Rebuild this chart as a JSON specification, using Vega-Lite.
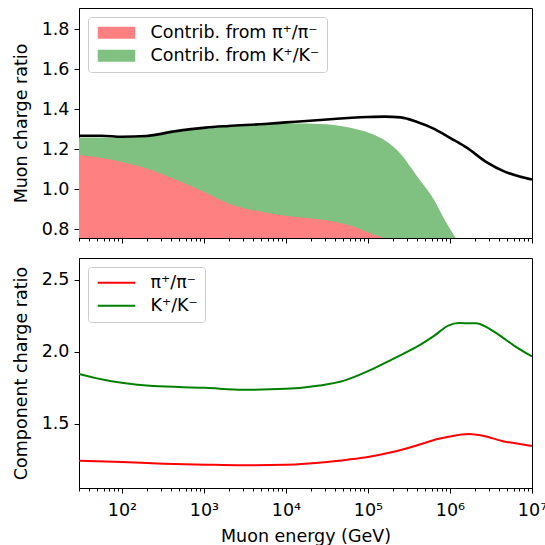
{
  "$schema": "https://vega.github.io/schema/vega-lite/v6.json",
  "padding": {"left": 11, "top": 7, "right": 5, "bottom": 5},
  "spacing": 20,
  "bounds": "flush",
  "config": {
    "font": "DejaVu Sans",
    "view": {"stroke": "black", "strokeWidth": 1},
    "axis": {"labelFont": "DejaVu Sans", "titleFont": "DejaVu Sans", "labelFontSize": 17.5, "titleFontSize": 17.5, "titleFontWeight": "normal", "labelColor": "black", "titleColor": "black", "domainColor": "black", "tickColor": "black", "grid": false, "tickWidth": 1, "domainWidth": 1, "labelPadding": 5, "tickSize": 5, "titlePadding": 11},
    "legend": {"labelFont": "DejaVu Sans", "labelFontSize": 17.5, "labelColor": "black", "labelLimit": 400}
  },
  "datasets": {
    "top": [
      {"E": 30, "total": 1.266, "k": 1.258, "pi": 1.17},
      {"E": 56.2, "total": 1.266, "k": 1.257, "pi": 1.155},
      {"E": 100, "total": 1.261, "k": 1.255, "pi": 1.135},
      {"E": 199.5, "total": 1.265, "k": 1.261, "pi": 1.103},
      {"E": 436.5, "total": 1.288, "k": 1.283, "pi": 1.05},
      {"E": 1047, "total": 1.307, "k": 1.303, "pi": 0.983},
      {"E": 1995, "total": 1.315, "k": 1.312, "pi": 0.928},
      {"E": 5495, "total": 1.325, "k": 1.321, "pi": 0.883},
      {"E": 10000, "total": 1.333, "k": 1.328, "pi": 0.866},
      {"E": 17783, "total": 1.34, "k": 1.327, "pi": 0.855},
      {"E": 38019, "total": 1.35, "k": 1.32, "pi": 0.838},
      {"E": 63096, "total": 1.356, "k": 1.305, "pi": 0.815},
      {"E": 100000, "total": 1.36, "k": 1.283, "pi": 0.783},
      {"E": 158489, "total": 1.362, "k": 1.245, "pi": 0.755},
      {"E": 251189, "total": 1.358, "k": 1.175, "pi": null},
      {"E": 398107, "total": 1.335, "k": 1.063, "pi": null},
      {"E": 630957, "total": 1.302, "k": 0.95, "pi": null},
      {"E": 891251, "total": 1.268, "k": 0.835, "pi": null},
      {"E": 1174898, "total": 1.24, "k": 0.755, "pi": null},
      {"E": 1584893, "total": 1.208, "k": null, "pi": null},
      {"E": 2818383, "total": 1.133, "k": null, "pi": null},
      {"E": 4570882, "total": 1.088, "k": null, "pi": null},
      {"E": 7079458, "total": 1.062, "k": null, "pi": null},
      {"E": 10000000, "total": 1.047, "k": null, "pi": null}
    ],
    "piRatio": [
      {"E": 30, "r": 1.243},
      {"E": 100, "r": 1.234},
      {"E": 324, "r": 1.222},
      {"E": 1047, "r": 1.215},
      {"E": 3020, "r": 1.211},
      {"E": 10000, "r": 1.215},
      {"E": 31623, "r": 1.234},
      {"E": 56234, "r": 1.25},
      {"E": 100000, "r": 1.269},
      {"E": 199526, "r": 1.303},
      {"E": 398107, "r": 1.35},
      {"E": 707946, "r": 1.394},
      {"E": 1000000, "r": 1.412},
      {"E": 1698244, "r": 1.428},
      {"E": 2511886, "r": 1.417},
      {"E": 4570882, "r": 1.377},
      {"E": 6025596, "r": 1.366},
      {"E": 10000000, "r": 1.345}
    ],
    "kRatio": [
      {"E": 30, "r": 1.847},
      {"E": 56.2, "r": 1.81},
      {"E": 100, "r": 1.785},
      {"E": 239.9, "r": 1.762},
      {"E": 1047, "r": 1.75},
      {"E": 3020, "r": 1.736},
      {"E": 10000, "r": 1.743},
      {"E": 25704, "r": 1.766},
      {"E": 51286, "r": 1.8},
      {"E": 100000, "r": 1.866},
      {"E": 199526, "r": 1.95},
      {"E": 436516, "r": 2.05},
      {"E": 645654, "r": 2.113},
      {"E": 954993, "r": 2.183},
      {"E": 1288250, "r": 2.2},
      {"E": 2089296, "r": 2.199},
      {"E": 2818383, "r": 2.171},
      {"E": 4073803, "r": 2.113},
      {"E": 6025596, "r": 2.044},
      {"E": 10000000, "r": 1.968}
    ]
  },
  "vconcat": [
    {
      "width": 453,
      "height": 230,
      "data": {"name": "top"},
      "encoding": {
        "x": {
          "field": "E", "type": "quantitative",
          "scale": {"type": "log", "domain": [30, 10000000], "nice": false},
          "axis": {
            "title": null, "labels": false,
            "values": [30,40,50,60,70,80,90,100,200,300,400,500,600,700,800,900,1000,2000,3000,4000,5000,6000,7000,8000,9000,10000,20000,30000,40000,50000,60000,70000,80000,90000,100000,200000,300000,400000,500000,600000,700000,800000,900000,1000000,2000000,3000000,4000000,5000000,6000000,7000000,8000000,9000000,10000000],
            "tickSize": {"condition": {"test": "abs(log(datum.value)/LN10 - round(log(datum.value)/LN10)) < 0.001", "value": 5}, "value": 3}
          }
        }
      },
      "layer": [
        {
          "mark": {"type": "area", "interpolate": "monotone", "clip": true},
          "encoding": {
            "y": {"field": "k", "type": "quantitative",
              "scale": {"domain": [0.755, 1.905], "nice": false, "zero": false},
              "axis": {"title": "Muon charge ratio", "values": [0.8, 1.0, 1.2, 1.4, 1.6, 1.8], "format": ".1f"}},
            "y2": {"datum": 0.755},
            "color": {
              "datum": "Contrib. from K⁺/K⁻",
              "scale": {"domain": ["Contrib. from π⁺/π⁻", "Contrib. from K⁺/K⁻"], "range": ["#ff8080", "#80c080"]},
              "legend": {"orient": "top-left", "title": null, "offset": 9, "padding": 7, "fillColor": "white", "strokeColor": "#cccccc", "cornerRadius": 3, "symbolType": "M-1,-1H5.25V1H-1Z", "symbolSize": 144, "symbolStrokeWidth": 0, "labelFontSize": 17.5, "labelOffset": 38, "rowPadding": 4, "symbolOpacity": 1}
            }
          }
        },
        {
          "mark": {"type": "area", "interpolate": "monotone", "clip": true},
          "encoding": {
            "y": {"field": "pi", "type": "quantitative"},
            "y2": {"datum": 0.755},
            "color": {"datum": "Contrib. from π⁺/π⁻"}
          }
        },
        {
          "mark": {"type": "line", "interpolate": "monotone", "color": "black", "strokeWidth": 2.6, "clip": true},
          "encoding": {
            "y": {"field": "total", "type": "quantitative"}
          }
        }
      ]
    },
    {
      "width": 453,
      "height": 230,
      "encoding": {
        "x": {
          "field": "E", "type": "quantitative",
          "scale": {"type": "log", "domain": [30, 10000000], "nice": false},
          "axis": {
            "title": "Muon energy (GeV)",
            "titlePadding": 9,
            "labelPadding": 8,
            "values": [30,40,50,60,70,80,90,100,200,300,400,500,600,700,800,900,1000,2000,3000,4000,5000,6000,7000,8000,9000,10000,20000,30000,40000,50000,60000,70000,80000,90000,100000,200000,300000,400000,500000,600000,700000,800000,900000,1000000,2000000,3000000,4000000,5000000,6000000,7000000,8000000,9000000,10000000],
            "labelExpr": "datum.value == 100 ? '10²' : datum.value == 1000 ? '10³' : datum.value == 10000 ? '10⁴' : datum.value == 100000 ? '10⁵' : datum.value == 1000000 ? '10⁶' : datum.value == 10000000 ? '10⁷' : ''",
            "labelOverlap": false,
            "labelFlush": false,
            "labelBound": false,
            "tickSize": {"condition": {"test": "abs(log(datum.value)/LN10 - round(log(datum.value)/LN10)) < 0.001", "value": 5}, "value": 3}
          }
        }
      },
      "layer": [
        {
          "data": {"name": "piRatio"},
          "mark": {"type": "line", "interpolate": "monotone", "strokeWidth": 2, "clip": true},
          "encoding": {
            "y": {"field": "r", "type": "quantitative",
              "scale": {"domain": [1.053, 2.653], "nice": false, "zero": false},
              "axis": {"title": "Component charge ratio", "values": [1.5, 2.0, 2.5], "format": ".1f"}},
            "color": {
              "datum": "π⁺/π⁻",
              "scale": {"domain": ["π⁺/π⁻", "K⁺/K⁻"], "range": ["#ff0000", "#008000"]},
              "legend": {"orient": "top-left", "title": null, "offset": 9, "padding": 7, "fillColor": "white", "strokeColor": "#cccccc", "cornerRadius": 3, "symbolType": "M-1,0H5.25", "symbolSize": 144, "symbolStrokeWidth": 2, "labelFontSize": 17.5, "labelOffset": 38, "rowPadding": 4}
            }
          }
        },
        {
          "data": {"name": "kRatio"},
          "mark": {"type": "line", "interpolate": "monotone", "strokeWidth": 2, "clip": true},
          "encoding": {
            "y": {"field": "r", "type": "quantitative"},
            "color": {"datum": "K⁺/K⁻"}
          }
        }
      ]
    }
  ],
  "resolve": {"scale": {"color": "independent"}, "legend": {"color": "independent"}}
}
